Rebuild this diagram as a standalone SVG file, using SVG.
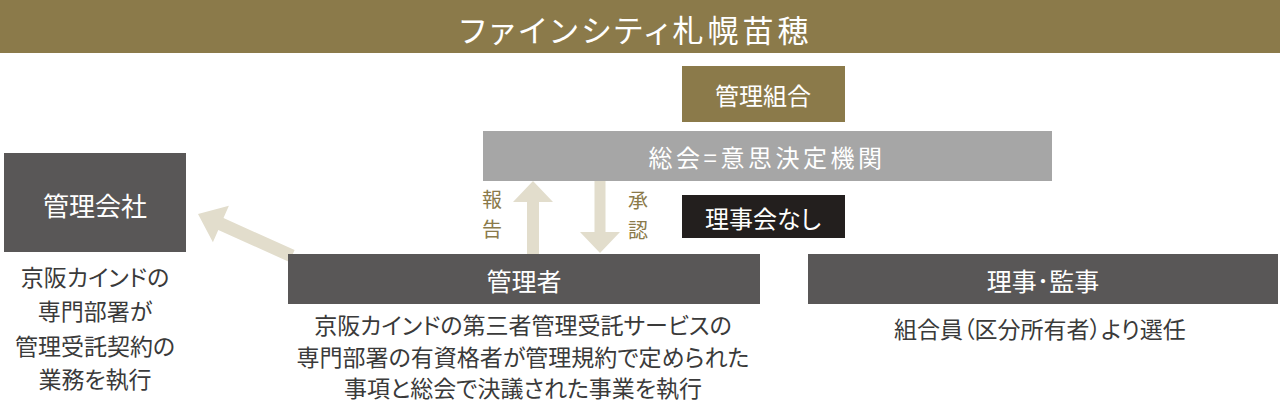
<svg xmlns="http://www.w3.org/2000/svg" width="1280" height="402" viewBox="0 0 1280 402">
<style>
text{font-family:"Noto Sans CJK JP","Noto Sans",sans-serif;text-anchor:middle;dominant-baseline:central;font-feature-settings:"palt"}
.w{fill:#ffffff}
.d{fill:#3a3a3a;font-size:23px}
.g{fill:#8b7a4a;font-size:20px}
.dark{fill:#595757}
.arr{fill:#e2ddcc}
</style>
<rect x="0" y="0" width="1280" height="53" fill="#8b7a4a"/>
<text class="w" x="636" y="28" font-size="31" letter-spacing="4">ファインシティ札幌苗穂</text>
<g id="connectors">
<polygon class="arr" points="198,214 228.9,205.7 223.5,218 294.6,250 289.4,262 218.3,230 212.9,242.3"/>
<polygon class="arr" points="533,181 553,202 539,202 539,258 527,258 527,202 513,202"/>
<polygon class="arr" points="600,253 580,232 594.5,232 594.5,181 605.5,181 605.5,232 620,232"/>
<text class="g" x="492" y="198">報</text>
<text class="g" x="492" y="228">告</text>
<text class="g" x="638" y="199">承</text>
<text class="g" x="638" y="229">認</text>
</g>
<g id="kanri-kumiai">
<rect x="682" y="66" width="163" height="56" fill="#8b7a4a"/>
<text class="w" x="763" y="94" font-size="24">管理組合</text>
</g>
<g id="sokai">
<rect x="483" y="131" width="569" height="50" fill="#a6a6a6"/>
<text class="w" x="767" y="156" font-size="24" letter-spacing="3.5">総会=意思決定機関</text>
</g>
<g id="rijikai-nashi">
<rect x="682" y="195" width="163" height="43" fill="#231f1e"/>
<text class="w" x="763" y="217" font-size="24">理事会なし</text>
</g>
<g id="kanri-gaisha">
<rect class="dark" x="4" y="153" width="182" height="99"/>
<text class="w" x="95" y="204" font-size="26">管理会社</text>
<text class="d" x="95" y="276">京阪カインドの</text>
<text class="d" x="95" y="310">専門部署が</text>
<text class="d" x="95" y="345">管理受託契約の</text>
<text class="d" x="95" y="378">業務を執行</text>
</g>
<g id="kanrisha">
<rect class="dark" x="288" y="254" width="472" height="50"/>
<text class="w" x="524" y="280" font-size="25">管理者</text>
<text class="d" x="523" y="324">京阪カインドの第三者管理受託サービスの</text>
<text class="d" x="523" y="356">専門部署の有資格者が管理規約で定められた</text>
<text class="d" x="523" y="387">事項と総会で決議された事業を執行</text>
</g>
<g id="riji-kanji">
<rect class="dark" x="808" y="254" width="470" height="50"/>
<text class="w" x="1043" y="280" font-size="25">理事･監事</text>
<text class="d" x="1040" y="328">組合員（区分所有者）より選任</text>
</g>
</svg>
